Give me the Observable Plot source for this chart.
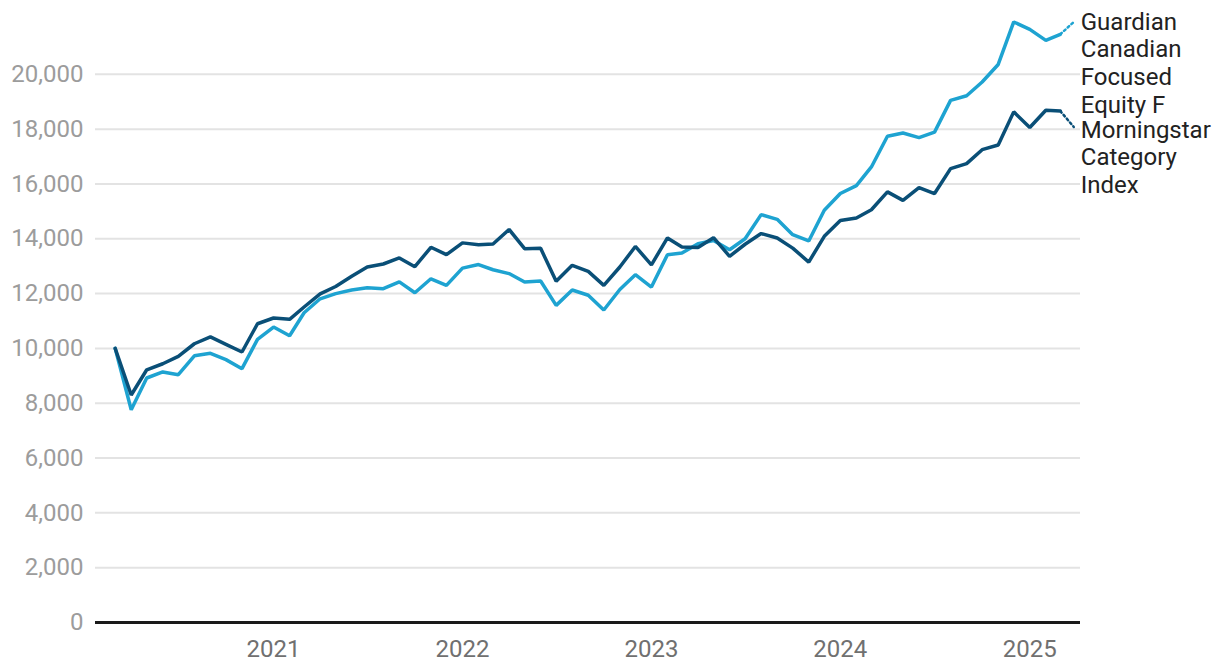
<!DOCTYPE html>
<html><head><meta charset="utf-8">
<script src="https://cdn.jsdelivr.net/npm/d3@7"></script>
<script src="https://cdn.jsdelivr.net/npm/@observablehq/plot@0.6"></script>
<style>body{margin:0;background:#fff;font-family:Roboto,sans-serif}</style>
</head><body><div id="chart"></div>
<script>
const months = ["2020-03","2020-04","2020-05","2020-06","2020-07","2020-08","2020-09","2020-10","2020-11","2020-12",
"2021-01","2021-02","2021-03","2021-04","2021-05","2021-06","2021-07","2021-08","2021-09","2021-10","2021-11","2021-12",
"2022-01","2022-02","2022-03","2022-04","2022-05","2022-06","2022-07","2022-08","2022-09","2022-10","2022-11","2022-12",
"2023-01","2023-02","2023-03","2023-04","2023-05","2023-06","2023-07","2023-08","2023-09","2023-10","2023-11","2023-12",
"2024-01","2024-02","2024-03","2024-04","2024-05","2024-06","2024-07","2024-08","2024-09","2024-10","2024-11","2024-12",
"2025-01","2025-02","2025-03"];
const guardian = [10000,7760,8920,9140,9040,9730,9820,9590,9260,10330,
10780,10460,11300,11810,12000,12130,12210,12180,12430,12030,12540,12300,
12930,13060,12870,12730,12420,12460,11570,12130,11940,11400,12150,12690,
12240,13420,13480,13820,13940,13600,14000,14880,14710,14150,13920,15040,
15650,15940,16620,17740,17860,17690,17890,19050,19220,19720,20360,21910,
21640,21240,21460];
const morningstar = [10000,8300,9220,9440,9710,10170,10420,10150,9870,10900,
11110,11060,11510,11990,12260,12630,12970,13080,13300,12980,13690,13420,
13850,13780,13810,14340,13640,13650,12450,13030,12810,12300,12970,13720,
13050,14030,13700,13680,14040,13360,13800,14190,14030,13660,13150,14090,
14670,14760,15060,15710,15400,15870,15650,16560,16740,17250,17420,18630,
18060,18690,18660];
const lastDate = "2025-03-27";
const guardianLast = 21910;
const morningstarLast = 18080;
const seriesNames = ["Guardian Canadian Focused Equity F", "Morningstar Category Index"];
const seriesLabels = ["Guardian\nCanadian\nFocused\nEquity F", "Morningstar\nCategory\nIndex"];
const seriesColors = ["#1ea3d1", "#0a4f77"];
const yTicks = [0,2000,4000,6000,8000,10000,12000,14000,16000,18000,20000];
const xTicks = ["2021-01-01","2022-01-01","2023-01-01","2024-01-01","2025-01-01"];

const values = [guardian, morningstar];
const lasts = [guardianLast, morningstarLast];
const solid = [];
seriesNames.forEach((s, k) => months.forEach((m, i) => solid.push({series: s, date: new Date(m + "-01"), value: values[k][i]})));
const dotted = [];
seriesNames.forEach((s, k) => {
  dotted.push({series: s, date: new Date(months[months.length - 1] + "-01"), value: values[k][values[k].length - 1]});
  dotted.push({series: s, date: new Date(lastDate), value: lasts[k]});
});
const labels = seriesNames.map((s, k) => ({series: s, date: new Date(lastDate), value: lasts[k], label: seriesLabels[k]}));

const chart = Plot.plot({
  width: 1220, height: 672,
  marginLeft: 95, marginRight: 140, marginTop: 19, marginBottom: 50,
  style: {fontFamily: "Roboto, sans-serif", fontSize: "24px", background: "#fff", overflow: "visible"},
  x: {type: "utc", domain: [new Date("2020-01-23"), new Date("2025-04-09")]},
  y: {domain: [0, 22000]},
  color: {domain: seriesNames, range: seriesColors},
  marks: [
    Plot.ruleY(yTicks.filter(d => d > 0), {stroke: "#e3e3e3", strokeWidth: 2}),
    Plot.axisY({ticks: yTicks, tickSize: 0, tickPadding: 12, tickFormat: d => d.toLocaleString("en-US"), fill: "#9c9c9c", label: null}),
    Plot.axisX({ticks: xTicks.map(d => new Date(d)), tickSize: 0, tickPadding: 17, tickFormat: "%Y", fill: "#707070", label: null}),
    Plot.line(dotted, {x: "date", y: "value", z: "series", stroke: "series", strokeWidth: 2.5, strokeDasharray: "2,3"}),
    Plot.line(solid, {x: "date", y: "value", z: "series", stroke: "series", strokeWidth: 3.5, strokeLinejoin: "miter"}),
    Plot.ruleY([0], {stroke: "#1a1a1a", strokeWidth: 3}),
    Plot.text(labels.slice(0, 1), {x: "date", y: "value", text: "label", textAnchor: "start", lineAnchor: "top", dx: 7, dy: -12, lineHeight: 1.155, fill: "#222"}),
    Plot.text(labels.slice(1), {x: "date", y: "value", text: "label", textAnchor: "start", lineAnchor: "top", dx: 7, dy: -9, lineHeight: 1.155, fill: "#222"})
  ]
});
document.getElementById("chart").appendChild(chart);
</script>
</body></html>
